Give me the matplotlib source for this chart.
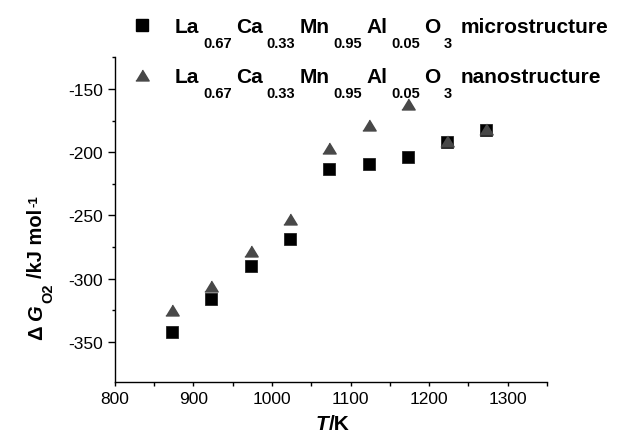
import matplotlib
matplotlib.use("Agg")
import matplotlib.pyplot as plt
from matplotlib.lines import Line2D
from matplotlib.ticker import MultipleLocator, FixedLocator

plt.rcParams['font.family'] = ['Liberation Sans', 'DejaVu Sans']
plt.rcParams['axes.unicode_minus'] = False

# data
temps = [873, 923, 973, 1023, 1073, 1123, 1173, 1223, 1273]
dg_micro = [-342, -316, -290, -269, -213, -209.5, -204, -192, -182.5]
dg_nano = [-325, -305.5, -278, -253, -196.5, -178.5, -162, -191.5, -182]
formula = [('La', 0), ('0.67', 1), ('Ca', 0), ('0.33', 1), ('Mn', 0), ('0.95', 1),
           ('Al', 0), ('0.05', 1), ('O', 0), ('3', 1)]
names = ['microstructure', 'nanostructure']
xticks = [800, 900, 1000, 1100, 1200, 1300]
yticks = [-350, -300, -250, -200, -150]

W, H = 634, 435
fig = plt.figure(figsize=(W/100, H/100), dpi=100)
ax = fig.add_axes([114.7/W, 1-383.3/H, (547-114.7)/W, (383.3-58.3)/H])
rend = fig.canvas.get_renderer()

tri = [(-1, -0.82), (1, -0.82), (0, 0.82)]
ax.plot(temps, dg_micro, 's', color='black', ms=8, mec='#222222', mew=0.6, zorder=3)
ax.plot(temps, dg_nano, marker=tri, ls='none', color='#484848', ms=9.6, mec='#484848', zorder=4)

ax.set_xlim(800, 1350)
ax.set_ylim(-382, -125)
ax.set_xticks(xticks)
ax.xaxis.set_minor_locator(MultipleLocator(50))
ax.set_yticks(yticks)
ax.yaxis.set_minor_locator(FixedLocator([-325, -275, -225, -175, -125]))
ax.spines['top'].set_visible(False)
ax.spines['right'].set_visible(False)
for s in ['left', 'bottom']:
    ax.spines[s].set_linewidth(1.0)
ax.tick_params(which='both', direction='out', width=1, labelsize=12.5)
ax.tick_params(axis='y', which='major', length=5, pad=3.5)
ax.tick_params(axis='y', which='minor', length=2.5)
ax.tick_params(axis='x', which='both', length=3, pad=3)


def put(x, y, s, size, style='normal', rot=0):
    # x, y in pixels from top-left, anchored at baseline-left
    t = fig.text(x/W, 1-y/H, s, fontsize=size, fontweight='bold', fontstyle=style,
                 rotation=rot, rotation_mode='anchor', ha='left', va='baseline')
    bb = t.get_window_extent(rend)
    return bb.height if rot else bb.width


# legend: marker + formula with dropped subscripts
markers = [dict(marker='s', color='black', ms=8), dict(marker=tri, color='#484848', ms=9.6)]
for i, name in enumerate(names):
    base = 33 + 50*i
    fig.add_artist(Line2D([142/W], [1-(base-7)/H], ls='none', transform=fig.transFigure,
                          **markers[i]))
    x = 175
    for s, sub in formula:
        if sub:
            x += put(x, base+15, s, 10.5) + 4
        else:
            x += put(x, base, s, 15) + 4
    put(x+4, base, name, 15)

# y label, read bottom to top
y = 340
y -= put(42, y, '\u0394', 14.5, rot=90) + 4
y -= put(42, y, 'G', 14.5, 'italic', rot=90) + 3
y -= put(52, y, 'O2', 10.5, rot=90) + 5
y -= put(42, y, '/kJ mol', 14.5, rot=90) + 2
put(37, y, '-1', 9.5, rot=90)

# x label
x = 316
x += put(x, 430, 'T', 15, 'italic')
put(x, 430, '/K', 15)

fig.savefig('out.png', dpi=100)
